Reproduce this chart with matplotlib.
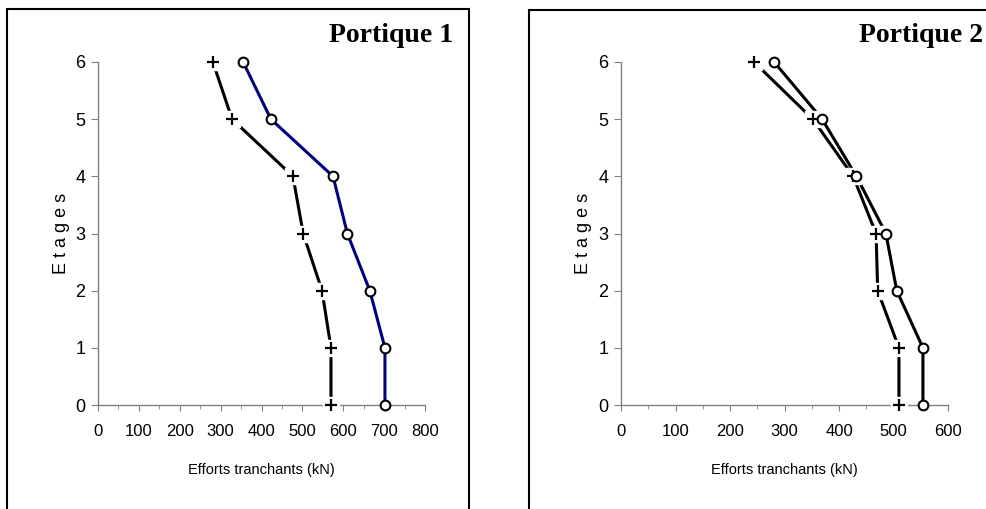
import matplotlib.pyplot as plt
from matplotlib.patches import Rectangle
from matplotlib.ticker import MultipleLocator

# floors
etages = [0, 1, 2, 3, 4, 5, 6]

# Portique 1 (shear forces in kN)
p1_plus = [570, 570, 548, 502, 477, 328, 281]
p1_circle = [702, 702, 665, 610, 575, 423, 355]

# Portique 2
p2_plus = [510, 510, 471, 468, 426, 352, 244]
p2_circle = [554, 554, 506, 486, 432, 369, 281]

plt.rcParams['font.family'] = ['Liberation Sans', 'DejaVu Sans']

fig = plt.figure(figsize=(9.86, 5.09), dpi=100)

# frames around each chart
fig.patches.append(Rectangle((7 / 986, -0.1), 462 / 986, 1.1 - 9 / 509,
                             transform=fig.transFigure, fill=False,
                             edgecolor='black', linewidth=1.5))
fig.patches.append(Rectangle((529 / 986, -0.1), 0.6, 1.1 - 10 / 509,
                             transform=fig.transFigure, fill=False,
                             edgecolor='black', linewidth=1.5))


def draw_panel(rect, plus, circle, circle_color, xmax, title, title_x, ylab_x):
    ax = fig.add_axes(rect)
    ax.plot(plus, etages, color='black', linewidth=2.2, clip_on=False, zorder=2)
    ax.plot(circle, etages, color=circle_color, linewidth=2.2, clip_on=False, zorder=2)
    # white halo behind the + markers
    ax.plot(plus, etages, linestyle='none', marker='s', markersize=11,
            markerfacecolor='white', markeredgecolor='white', clip_on=False, zorder=3)
    ax.plot(plus, etages, linestyle='none', marker='+', markersize=9,
            markeredgewidth=1.6, color='black', clip_on=False, zorder=4)
    ax.plot(circle, etages, linestyle='none', marker='o', markersize=7,
            markerfacecolor='white', markeredgecolor='black',
            markeredgewidth=1.5, clip_on=False, zorder=4)

    ax.set_xlim(0, xmax)
    ax.set_ylim(0, 6)
    ax.xaxis.set_major_locator(MultipleLocator(100))
    ax.xaxis.set_minor_locator(MultipleLocator(50))
    ax.yaxis.set_major_locator(MultipleLocator(1))
    for s in ['top', 'right']:
        ax.spines[s].set_visible(False)
    for s in ['left', 'bottom']:
        ax.spines[s].set_color('#808080')
        ax.spines[s].set_linewidth(1)
    ax.tick_params(axis='both', which='both', colors='#808080', labelcolor='black')
    ax.tick_params(axis='x', which='major', length=4, labelsize=12, pad=10)
    ax.tick_params(axis='x', which='minor', length=3)
    ax.tick_params(axis='y', which='major', length=5, labelsize=13, pad=4)
    ax.set_xlabel('Efforts tranchants (kN)', fontsize=10.5, labelpad=17)
    ax.set_ylabel('E t a g e s', fontsize=13)
    ax.yaxis.set_label_coords(ylab_x, 0.5)
    ax.patch.set_alpha(0)
    fig.text(title_x, 1 - 42 / 509, title, fontsize=20, fontweight='bold',
             family='Liberation Serif', ha='right', va='baseline')
    return ax


draw_panel([98 / 986, 1 - 405 / 509, 327 / 986, 343 / 509],
           p1_plus, p1_circle, '#000080', 800, 'Portique 1', 453 / 986, -28 / 327)
draw_panel([621 / 986, 1 - 405 / 509, 327 / 986, 343 / 509],
           p2_plus, p2_circle, 'black', 600, 'Portique 2', 983 / 986, -29 / 327)

fig.savefig('out.png', dpi=100)
